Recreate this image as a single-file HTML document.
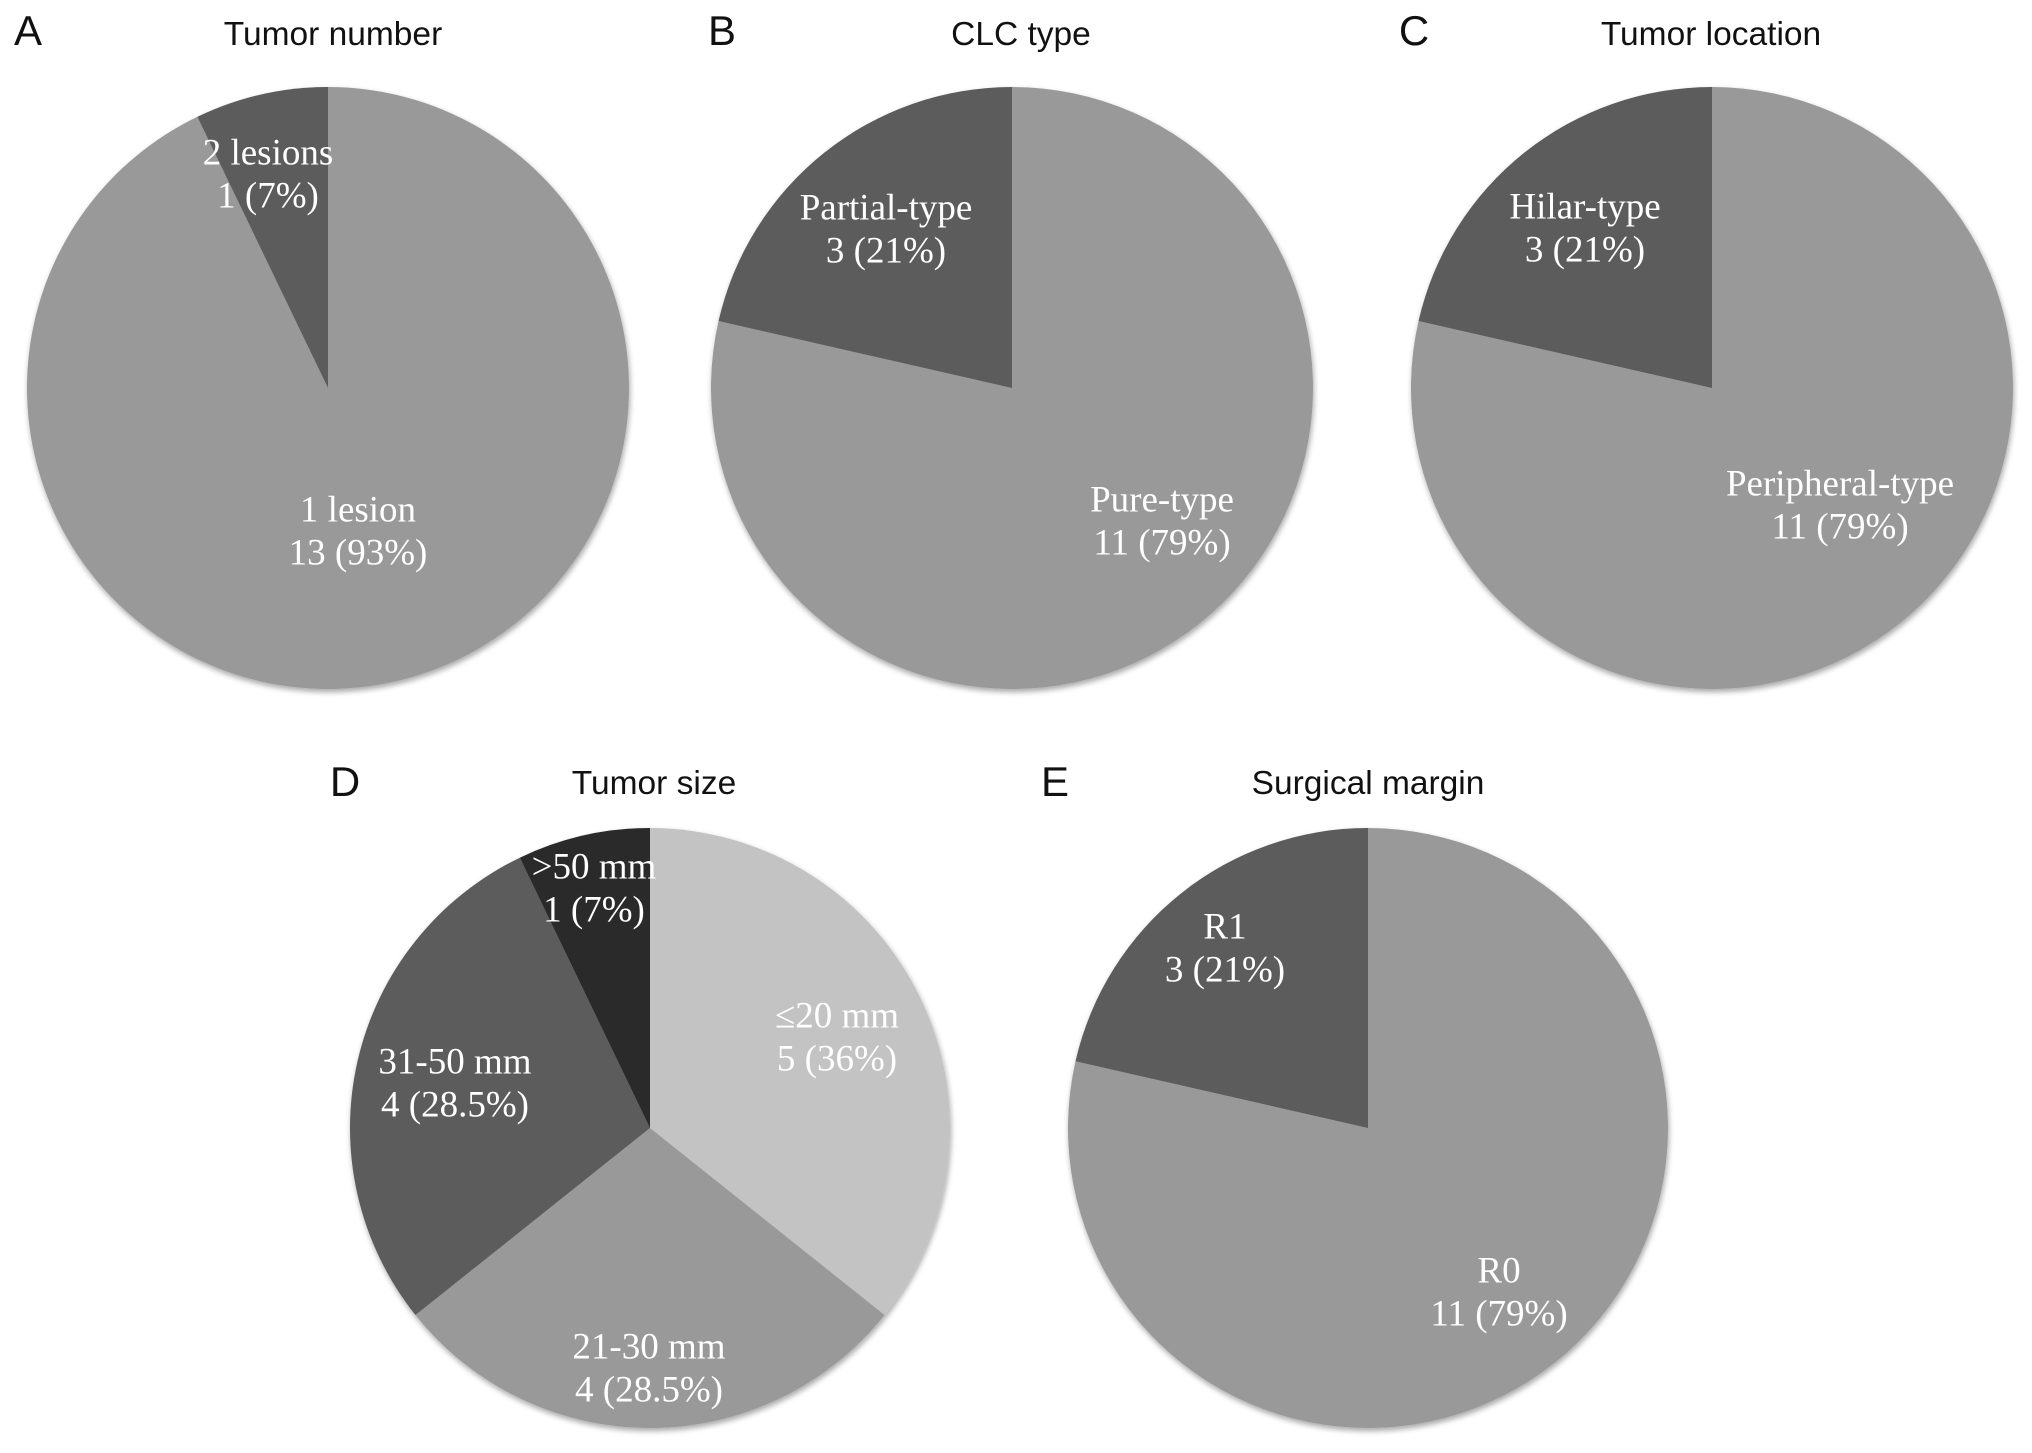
<!DOCTYPE html>
<html><head><meta charset="utf-8"><style>
html,body{margin:0;padding:0;background:#fff}
svg{display:block}
.t{font-family:"Liberation Sans",sans-serif;font-size:33.5px;fill:#111;text-anchor:middle;dominant-baseline:middle}
.p{font-family:"Liberation Sans",sans-serif;font-size:42px;fill:#111;text-anchor:middle;dominant-baseline:middle}
.l{font-family:"Liberation Serif",serif;font-size:37px;fill:#fff;text-anchor:middle;dominant-baseline:middle}
</style></head><body>
<svg id="fig" width="2032" height="1453" viewBox="0 0 2032 1453">
<defs><filter id="sh" x="-10%" y="-10%" width="120%" height="120%"><feGaussianBlur in="SourceAlpha" stdDeviation="3"/><feOffset dx="1" dy="3"/><feComponentTransfer><feFuncA type="linear" slope="0.35"/></feComponentTransfer><feMerge><feMergeNode/><feMergeNode in="SourceGraphic"/></feMerge></filter></defs>
<text class="p" x="28" y="34">A</text>
<text class="t" x="333" y="36">Tumor number</text>
<text class="p" x="722" y="34">B</text>
<text class="t" x="1021" y="36">CLC type</text>
<text class="p" x="1414" y="34">C</text>
<text class="t" x="1711" y="36">Tumor location</text>
<text class="p" x="345" y="785">D</text>
<text class="t" x="654" y="785">Tumor size</text>
<text class="p" x="1055" y="785">E</text>
<text class="t" x="1368" y="785">Surgical margin</text>
<g id="pies"></g>
<g id="labels"></g>
</svg>
<script>
const aValues=[13,1];
const bValues=[11,3];
const cValues=[11,3];
const dValues=[5,4,4,1];
const eValues=[11,3];
const aNames=["1 lesion","2 lesions"];
const bNames=["Pure-type","Partial-type"];
const cNames=["Peripheral-type","Hilar-type"];
const dNames=["\u226420 mm","21-30 mm","31-50 mm",">50 mm"];
const eNames=["R0","R1"];
const aPct=["13 (93%)","1 (7%)"];
const bPct=["11 (79%)","3 (21%)"];
const cPct=["11 (79%)","3 (21%)"];
const dPct=["5 (36%)","4 (28.5%)","4 (28.5%)","1 (7%)"];
const ePct=["11 (79%)","3 (21%)"];
const NS="http://www.w3.org/2000/svg";
const pies=[
 {id:"a",vals:aValues,names:aNames,pct:aPct,cx:328,cy:388,r:301,cols:["#999999","#5b5b5b"],lab:[[358,513],[268,156]]},
 {id:"b",vals:bValues,names:bNames,pct:bPct,cx:1012,cy:388,r:301,cols:["#999999","#5b5b5b"],lab:[[1162,503],[886,211]]},
 {id:"c",vals:cValues,names:cNames,pct:cPct,cx:1712,cy:388,r:301,cols:["#999999","#5b5b5b"],lab:[[1840,487],[1585,210]]},
 {id:"d",vals:dValues,names:dNames,pct:dPct,cx:650,cy:1128,r:300,cols:["#c3c3c3","#999999","#5b5b5b","#2b2b2b"],lab:[[837,1019],[649,1350],[455,1065],[594,870]]},
 {id:"e",vals:eValues,names:eNames,pct:ePct,cx:1368,cy:1128,r:300,cols:["#999999","#5b5b5b"],lab:[[1499,1274],[1225,930]]}
];
const gp=document.getElementById('pies'),gl=document.getElementById('labels');
pies.forEach(p=>{
 const tot=p.vals.reduce((s,v)=>s+v,0);
 const g=document.createElementNS(NS,'g');
 g.setAttribute('filter','url(#sh)');
 
 
 gp.appendChild(g);
 let acc=0;
 p.vals.forEach((v,i)=>{
  const a0=acc/tot*2*Math.PI, a1=(acc+v)/tot*2*Math.PI; acc+=v;
  const x0=p.cx+p.r*Math.sin(a0), y0=p.cy-p.r*Math.cos(a0);
  const x1=p.cx+p.r*Math.sin(a1), y1=p.cy-p.r*Math.cos(a1);
  const large=(a1-a0)>Math.PI?1:0;
  const path=document.createElementNS(NS,'path');
  path.setAttribute('d',`M${p.cx},${p.cy}L${x0},${y0}A${p.r},${p.r} 0 ${large} 1 ${x1},${y1}Z`);
  path.setAttribute('fill',p.cols[i]);
  
  
  g.appendChild(path);
  const [lx,ly]=p.lab[i];
  const t1=document.createElementNS(NS,'text');
  t1.setAttribute('class','l');t1.setAttribute('x',lx);t1.setAttribute('y',ly);
  t1.textContent=p.names[i];
  
  
  gl.appendChild(t1);
  const t2=document.createElementNS(NS,'text');
  t2.setAttribute('class','l');t2.setAttribute('x',lx);t2.setAttribute('y',ly+43);
  t2.textContent=p.pct[i];
  
  
  gl.appendChild(t2);
 });
});
</script>
</body></html>
